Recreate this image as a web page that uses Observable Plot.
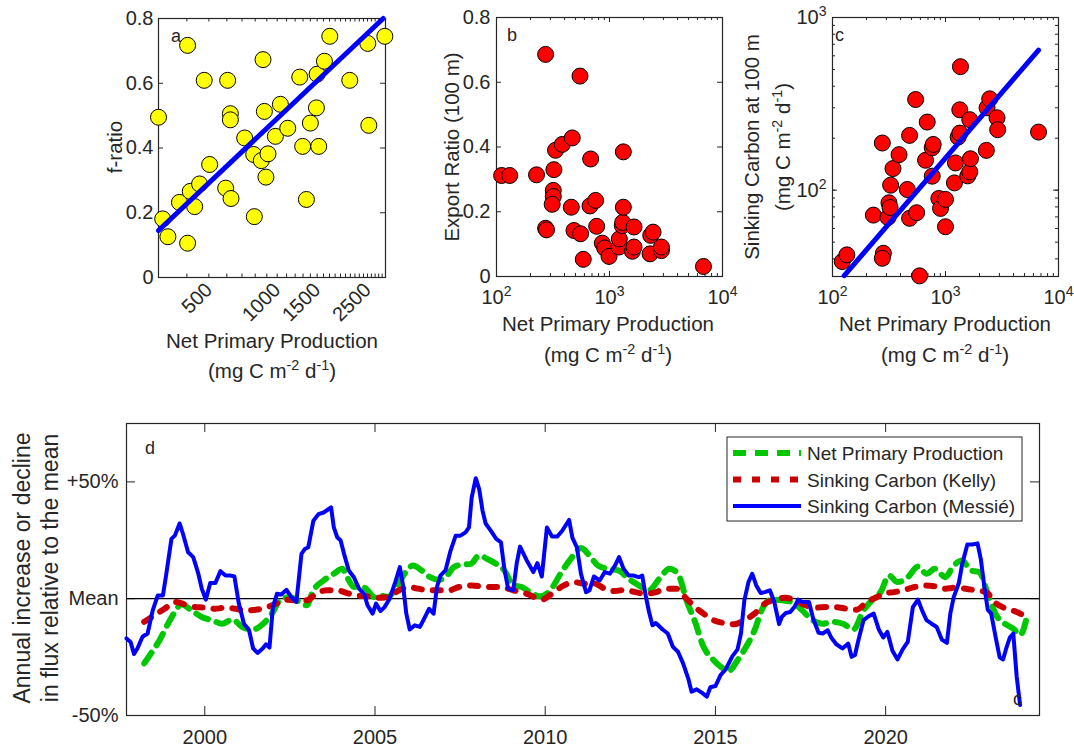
<!DOCTYPE html>
<html><head><meta charset="utf-8">
<script src="https://cdn.jsdelivr.net/npm/d3@7"></script>
<script src="https://cdn.jsdelivr.net/npm/@observablehq/plot@0.6"></script>
<style>
body{margin:0;background:#fff;}
#fig{position:relative;width:1074px;height:748px;overflow:hidden;background:#fff;}
#fig svg{position:absolute;left:0;top:0;overflow:visible;}
</style></head><body><div id="fig"></div>
<script>
// ---------------- DATA ----------------
// Panel a: NPP (mg C m-2 d-1) vs f-ratio
const aNpp = [300,313,330,371,403,403,414,433,455,477,504,593,605,622,622,626,719,788,793,851,866,878,911,892,982,1033,1113,1257,1295,1345,1400,1489,1499,1524,1615,1705,2088,2507,2533,2980];
const aF   = [0.495,0.181,0.126,0.232,0.717,0.106,0.266,0.219,0.289,0.609,0.349,0.276,0.609,0.506,0.487,0.244,0.431,0.380,0.188,0.361,0.673,0.513,0.382,0.310,0.436,0.535,0.461,0.619,0.405,0.241,0.477,0.524,0.628,0.405,0.668,0.745,0.609,0.723,0.470,0.745];
const aFitNpp = [300, 2930];
const aFitF = [0.145, 0.80];
const aTickLabels = [500, 1000, 1500, 2500];

// Panel b: NPP vs export ratio (100 m)
const bNpp = [111,131,226,272,272,277,318,318,311,322,333,382,468,459,485,555,548,586,681,672,754,770,864,906,990,1214,1222,1299,1308,1326,1326,1649,1594,1649,2317,2430,2285,2880,2880,6787];
const bRatio = [0.312,0.312,0.314,0.686,0.149,0.144,0.266,0.247,0.223,0.330,0.390,0.408,0.428,0.214,0.142,0.132,0.619,0.053,0.363,0.218,0.235,0.155,0.103,0.088,0.062,0.091,0.116,0.157,0.167,0.214,0.385,0.153,0.078,0.091,0.127,0.137,0.070,0.080,0.091,0.031];

// Panel c: NPP vs sinking carbon at 100 m
const cNpp = [122,134,230,276,282,276,310,316,323,327,343,388,459,481,481,544,555,590,666,689,763,763,778,873,904,1000,1000,1200,1225,1294,1338,1338,1356,1574,1640,1662,1640,2300,2331,2461,2857,2896,6660];
const cSink = [38.6,42.2,71.7,187.5,43.1,40.3,69.5,84.5,79.4,106.9,133.4,160.6,100.9,68.7,207.6,335,74.0,31.9,149,248,120.5,176,184,89.5,78.4,88.4,61.4,110.2,143.8,203,214,292,519,121,127.6,152,256,170,300,338,262.6,224,217];
const cFitNpp = [127, 6660];
const cFitSink = [32, 648];

// Panel d: annual anomaly (%) relative to the mean
const nppYears = [1998.22,1998.42,1998.67,1998.92,1999.12,1999.31,1999.61,1999.91,2000.21,2000.51,2000.81,2001.10,2001.40,2001.70,2002.00,2002.20,2002.49,2002.79,2002.99,2003.19,2003.49,2003.79,2004.04,2004.18,2004.38,2004.58,2004.78,2004.98,2005.13,2005.38,2005.63,2005.87,2006.12,2006.37,2006.62,2006.87,2007.07,2007.32,2007.56,2007.81,2008.06,2008.30,2008.56,2008.80,2009.06,2009.31,2009.55,2009.85,2010.15,2010.45,2010.75,2011.05,2011.30,2011.55,2011.85,2012.15,2012.45,2012.75,2013.05,2013.35,2013.65,2013.90,2014.15,2014.40,2014.65,2014.90,2015.15,2015.40,2015.65,2015.90,2016.15,2016.40,2016.65,2016.95,2017.25,2017.55,2017.85,2018.15,2018.45,2018.75,2019.05,2019.35,2019.65,2019.85,2020.10,2020.35,2020.65,2020.95,2021.20,2021.45,2021.75,2022.00,2022.25,2022.50,2022.75,2023.00,2023.25,2023.50,2023.75,2023.95,2024.15];
const nppValues = [-27.7,-23.4,-17.8,-10.7,-5.7,-2.4,-5.0,-7.8,-9.2,-10.7,-8.9,-12.1,-13.2,-10.9,-5.7,-0.7,0.7,-1.4,-2.8,3.6,7.8,10.7,12.8,9.2,5.0,5.7,3.6,0.7,1.4,0.7,5.0,10.7,14.2,12.1,9.2,8.1,9.2,13.5,14.6,14.9,18.5,17.0,14.9,12.1,5.7,5.0,2.8,1.0,3.6,10.7,17.0,21.7,18.5,14.2,12.8,12.1,8.5,5.7,3.6,8.5,12.8,10.7,-0.7,-9.9,-20.6,-25.6,-29.1,-30.8,-26.3,-20.6,-13.5,-3.6,-0.4,-0.7,-1.4,-5.0,-9.2,-10.7,-9.9,-10.7,-13.2,-5.0,0,2.8,9.9,7.1,9.2,13.8,10.7,12.8,9.2,14.2,16.3,12.1,11.4,2.1,-7.1,-10.7,-12.8,-15.6,-7.8];

const kellyYears = [1998.22,1998.52,1998.82,1999.12,1999.41,1999.71,2000.01,2000.31,2000.61,2000.90,2001.20,2001.50,2001.80,2002.10,2002.40,2002.69,2002.99,2003.29,2003.59,2003.89,2004.18,2004.48,2004.78,2005.08,2005.38,2005.67,2005.97,2006.27,2006.57,2006.87,2007.17,2007.47,2007.86,2008.26,2008.66,2009.06,2009.46,2009.90,2010.25,2010.55,2010.85,2011.15,2011.45,2011.75,2012.05,2012.35,2012.65,2012.95,2013.25,2013.55,2013.85,2014.15,2014.40,2014.65,2014.95,2015.25,2015.55,2015.85,2016.15,2016.45,2016.75,2017.05,2017.35,2017.65,2017.95,2018.25,2018.55,2018.85,2019.15,2019.45,2019.75,2020.00,2020.25,2020.55,2020.85,2021.15,2021.45,2021.75,2022.05,2022.35,2022.65,2022.95,2023.25,2023.55,2023.85,2024.05];
const kellyValues = [-9.9,-7.1,-4.3,-1.4,-2.4,-3.6,-3.8,-4.3,-3.8,-4.3,-5.0,-4.7,-3.8,-2.1,-0.4,-0.7,-0.7,2.4,3.6,3.6,2.4,1.4,1.0,0.4,0.7,3.3,5.0,4.3,3.6,3.6,3.6,5.0,5.7,5.0,5.0,3.6,2.1,-0.4,2.8,5.7,7.1,6.4,6.4,4.3,3.3,3.8,2.8,2.1,2.8,4.3,4.3,0,-3.6,-6.4,-9.2,-10.4,-10.9,-9.2,-6.4,-2.1,-0.4,0.4,-0.7,-2.8,-3.8,-3.6,-3.6,-4.3,-4.7,-1.4,0.7,2.4,2.8,3.8,5.0,5.7,5.3,4.3,4.7,4.3,3.6,2.8,-2.1,-4.3,-5.7,-7.1];

const messieYears = [1997.70,1997.82,1997.92,1998.02,1998.17,1998.32,1998.47,1998.62,1998.77,1998.87,1999.02,1999.12,1999.26,1999.36,1999.51,1999.66,1999.81,1999.91,2000.03,2000.16,2000.31,2000.46,2000.61,2000.76,2000.87,2001.00,2001.15,2001.30,2001.42,2001.55,2001.70,2001.80,2001.90,2002.00,2002.12,2002.25,2002.40,2002.54,2002.69,2002.84,2002.94,2003.04,2003.19,2003.34,2003.49,2003.64,2003.71,2003.79,2003.89,2003.99,2004.09,2004.23,2004.38,2004.53,2004.68,2004.78,2004.93,2005.03,2005.16,2005.28,2005.43,2005.58,2005.73,2005.83,2005.92,2006.02,2006.17,2006.32,2006.47,2006.59,2006.72,2006.82,2006.92,2007.07,2007.22,2007.37,2007.51,2007.66,2007.76,2007.84,2007.96,2008.06,2008.16,2008.25,2008.40,2008.56,2008.70,2008.80,2008.91,2009.06,2009.16,2009.26,2009.45,2009.65,2009.77,2009.90,2010.05,2010.20,2010.35,2010.50,2010.70,2010.80,2010.93,2011.05,2011.20,2011.30,2011.43,2011.60,2011.75,2011.90,2012.05,2012.17,2012.30,2012.45,2012.60,2012.75,2012.85,2012.95,2013.05,2013.15,2013.25,2013.45,2013.60,2013.75,2013.90,2014.05,2014.20,2014.30,2014.45,2014.60,2014.75,2014.85,2015.00,2015.15,2015.30,2015.50,2015.65,2015.75,2015.85,2015.97,2016.08,2016.20,2016.33,2016.45,2016.60,2016.73,2016.87,2016.95,2017.07,2017.20,2017.33,2017.43,2017.55,2017.75,2017.87,2018.03,2018.15,2018.30,2018.40,2018.55,2018.73,2018.90,2019.00,2019.10,2019.20,2019.35,2019.50,2019.65,2019.80,2019.93,2020.05,2020.20,2020.35,2020.50,2020.65,2020.80,2020.95,2021.07,2021.20,2021.35,2021.50,2021.65,2021.80,2021.90,2022.00,2022.15,2022.25,2022.40,2022.55,2022.70,2022.80,2022.90,2023.00,2023.10,2023.25,2023.35,2023.45,2023.55,2023.65,2023.75,2023.85,2023.95];
const messieValues = [-17.0,-18.5,-23.7,-21.3,-16.3,-14.9,-5.0,1.4,1.4,10.7,25.6,27.0,32.2,27.7,19.9,17.8,10.7,4.3,-0.4,6.7,6.7,11.8,9.9,9.9,9.5,-2.1,-10.7,-13.5,-21.3,-23.2,-21.3,-19.5,-20.9,-3.6,2.1,1.8,3.8,0.7,-1.4,19.2,21.3,22.0,33.4,36.2,36.9,38.4,39.1,30.5,26.3,24.9,19.2,12.1,9.2,4.3,2.1,-2.8,-6.4,-2.1,-5.3,-3.6,0,6.4,13.5,5.0,-6.4,-13.2,-11.4,-12.1,-7.8,-4.3,-6.4,5.0,9.9,12.1,20.6,27.0,27.0,28.4,30.5,43.3,51.6,46.9,37.6,32.2,29.1,25.6,24.1,12.8,4.3,3.6,14.9,22.3,16.6,11.4,15.2,9.5,30.5,26.6,26.6,29.1,33.7,26.0,22.0,10.7,2.8,3.6,9.5,7.8,11.4,10.7,14.2,17.8,12.8,9.9,9.9,9.2,9.9,1.4,-5.7,-11.4,-10.4,-13.2,-14.9,-20.6,-22.7,-27.7,-34.1,-39.8,-38.8,-40.2,-41.9,-37.9,-37.4,-32.7,-30.3,-24.6,-21.7,-14.9,-0.7,7.1,10.7,5.7,2.4,2.8,3.6,-1.4,-10.9,-7.8,-6.1,-5.7,-3.3,-0.4,-1.4,-1.4,-8.5,-14.6,-14.9,-13.5,-16.6,-19.5,-21.3,-19.2,-24.9,-24.1,-17.8,-9.2,-7.5,-6.4,-13.2,-16.6,-14.2,-22.3,-26.0,-21.7,-18.5,-3.6,-0.4,-5.0,-9.2,-10.7,-12.1,-17.5,-18.9,-6.4,0.7,6.7,14.9,23.2,23.2,23.7,16.6,5.0,-4.7,-6.4,-17.8,-25.1,-26.0,-20.9,-16.6,-14.9,-33.4,-45.5];

const dYearTicks = [2000, 2005, 2010, 2015, 2020];
const dPctTicks = [-50, 0, 50];
const dPctLabels = ["-50%", "Mean", "+50%"];
const legendLabels = ["Net Primary Production", "Sinking Carbon (Kelly)", "Sinking Carbon (Messié)"];

// ---------------- HELPERS ----------------
const FONT = '"Liberation Sans", Arial, Helvetica, sans-serif';
const INK = "#262626";
const zip2 = (xs, ys, kx, ky) => xs.map((v, i) => ({[kx]: v, [ky]: ys[i]}));
const style = () => ({fontFamily: FONT, fontSize: "20px", color: INK, background: "transparent", overflow: "visible"});

function xInTicks(values, len, span) {
  return [
    Plot.tickX(values, {x: d => d, insetTop: span - len, stroke: INK, strokeWidth: 1}),
    Plot.tickX(values, {x: d => d, insetBottom: span - len, stroke: INK, strokeWidth: 1})
  ];
}
function yInTicks(values, len, span) {
  return [
    Plot.tickY(values, {y: d => d, insetRight: span - len, stroke: INK, strokeWidth: 1}),
    Plot.tickY(values, {y: d => d, insetLeft: span - len, stroke: INK, strokeWidth: 1})
  ];
}
function logMinor(lo, hi) {
  const out = [];
  for (let dec = 1; dec <= 1e5; dec *= 10)
    for (let k = 1; k < 10; k++) { const v = k * dec; if (v >= lo - 1e-9 && v <= hi + 1e-9) out.push(v); }
  return out;
}
function supLabels(svg) {
  d3.select(svg).selectAll('g[aria-label$="tick label"] text').each(function () {
    const m = /^10\^(\d+)$/.exec(this.textContent);
    if (!m) return;
    const s = d3.select(this);
    s.text(null);
    s.append("tspan").text("10");
    s.append("tspan").attr("dy", "-8").attr("font-size", "14px").text(m[1]);
  });
}
const powFmt = d => "10^" + Math.round(Math.log10(d));
const fig = document.getElementById("fig");

// ---------------- PANEL A ----------------
{
  const W = 385 - 158, H = 277 - 18;
  const p = Plot.plot({
    width: 1074, height: 300, marginLeft: 158, marginRight: 1074 - 385, marginTop: 18, marginBottom: 23,
    style: style(),
    x: {type: "log", domain: [300, 3000], label: null},
    y: {domain: [0, 0.8], label: null},
    marks: [
      Plot.frame({stroke: INK, strokeWidth: 1.2}),
      ...xInTicks(d3.range(300, 1000, 100).concat(d3.range(1000, 3001, 100)), 3.5, H),
      ...yInTicks([0, 0.2, 0.4, 0.6, 0.8], 5, W),
      Plot.axisX({ticks: aTickLabels, tickSize: 0, tickRotate: -45, tickPadding: 9, tickFormat: d => String(d), label: null}),
      Plot.axisY({ticks: [0, 0.2, 0.4, 0.6, 0.8], tickSize: 0, tickPadding: 5, tickFormat: d => String(d), label: null}),
      Plot.dot(zip2(aNpp, aF, "npp", "f"), {x: "npp", y: "f", r: 8, fill: "#ffff00", stroke: "#000", strokeWidth: 1}),
      Plot.line(zip2(aFitNpp, aFitF, "npp", "f"), {x: "npp", y: "f", stroke: "#0000ff", strokeWidth: 5})
    ]
  });
  fig.appendChild(p);
}

// ---------------- PANEL B ----------------
{
  const W = 722 - 496, H = 276 - 17;
  const p = Plot.plot({
    width: 1074, height: 300, marginLeft: 496, marginRight: 1074 - 722, marginTop: 17, marginBottom: 24,
    style: style(),
    x: {type: "log", domain: [100, 10000], label: null},
    y: {domain: [0, 0.8], label: null},
    marks: [
      Plot.frame({stroke: INK, strokeWidth: 1.2}),
      ...xInTicks(logMinor(100, 10000), 3, H),
      ...xInTicks([100, 1000, 10000], 5, H),
      ...yInTicks([0, 0.2, 0.4, 0.6, 0.8], 5, W),
      Plot.axisX({ticks: [100, 1000, 10000], tickSize: 0, tickPadding: 13, tickFormat: powFmt, label: null}),
      Plot.axisY({ticks: [0, 0.2, 0.4, 0.6, 0.8], tickSize: 0, tickPadding: 6, tickFormat: d => String(d), label: null}),
      Plot.dot(zip2(bNpp, bRatio, "npp", "ratio"), {x: "npp", y: "ratio", r: 8, fill: "#ff0000", stroke: "#000", strokeWidth: 1})
    ]
  });
  supLabels(p);
  fig.appendChild(p);
}

// ---------------- PANEL C ----------------
{
  const W = 1058 - 832, H = 276 - 17;
  const p = Plot.plot({
    width: 1074, height: 300, marginLeft: 832, marginRight: 1074 - 1058, marginTop: 17, marginBottom: 24,
    style: style(),
    x: {type: "log", domain: [100, 10000], label: null},
    y: {type: "log", domain: [Math.pow(10, 1.5), 1000], label: null},
    marks: [
      Plot.frame({stroke: INK, strokeWidth: 1.2}),
      ...xInTicks(logMinor(100, 10000), 3, H),
      ...xInTicks([100, 1000, 10000], 5, H),
      ...yInTicks(logMinor(40, 1000), 3, W),
      ...yInTicks([100, 1000], 5, W),
      Plot.axisX({ticks: [100, 1000, 10000], tickSize: 0, tickPadding: 13, tickFormat: powFmt, label: null}),
      Plot.axisY({ticks: [100, 1000], tickSize: 0, tickPadding: 6, tickFormat: powFmt, label: null}),
      Plot.dot(zip2(cNpp, cSink, "npp", "sink"), {x: "npp", y: "sink", r: 8, fill: "#ff0000", stroke: "#000", strokeWidth: 1}),
      Plot.line(zip2(cFitNpp, cFitSink, "npp", "sink"), {x: "npp", y: "sink", stroke: "#0000ff", strokeWidth: 5})
    ]
  });
  supLabels(p);
  fig.appendChild(p);
}

// ---------------- PANEL D ----------------
const GREEN = "#00c800", DRED = "#cc0000", BLUE = "#0000ff";
{
  const W = 1039 - 126, H = 715 - 423;
  const p = Plot.plot({
    width: 1074, height: 748, marginLeft: 126, marginRight: 1074 - 1039, marginTop: 423, marginBottom: 748 - 715,
    style: style(),
    x: {domain: [1997.7, 2024.52], label: null},
    y: {domain: [-50, 75], label: null},
    marks: [
      Plot.frame({stroke: INK, strokeWidth: 1.2}),
      ...xInTicks(dYearTicks, 9, H),
      ...yInTicks(dPctTicks, 9, W),
      Plot.ruleY([0], {stroke: "#000", strokeWidth: 1.2}),
      Plot.axisX({ticks: dYearTicks, tickSize: 0, tickPadding: 14, tickFormat: d => String(d), label: null}),
      Plot.axisY({ticks: dPctTicks, tickSize: 0, tickPadding: 8, tickFormat: d => dPctLabels[dPctTicks.indexOf(d)], label: null}),
      Plot.line(zip2(nppYears, nppValues, "year", "v"), {x: "year", y: "v", stroke: GREEN, strokeWidth: 6, strokeDasharray: "13,9", curve: "monotone-x"}),
      Plot.line(zip2(kellyYears, kellyValues, "year", "v"), {x: "year", y: "v", stroke: DRED, strokeWidth: 6, strokeDasharray: "8,11", curve: "monotone-x"}),
      Plot.line(zip2(messieYears, messieValues, "year", "v"), {x: "year", y: "v", stroke: BLUE, strokeWidth: 4, strokeLinejoin: "round"})
    ]
  });
  fig.appendChild(p);
}

// ---------------- TEXT OVERLAY (titles, legend, panel letters) ----------------
const ov = d3.select(fig).append("svg").attr("width", 1074).attr("height", 748)
  .style("font-family", FONT).style("fill", INK).style("pointer-events", "none");

function label(parts, x, y, {rotate = false, size = 20.5, anchor = "middle"} = {}) {
  const t = ov.append("text").attr("text-anchor", anchor).attr("font-size", size).attr("fill", INK)
    .attr("transform", `translate(${x},${y})` + (rotate ? " rotate(-90)" : ""));
  let raised = false;
  parts.forEach(pt => {
    const sup = Array.isArray(pt);
    const txt = sup ? pt[0] : pt;
    const ts = t.append("tspan").text(txt);
    if (sup && !raised) { ts.attr("dy", -8).attr("font-size", size * 0.7); raised = true; }
    else if (sup) { ts.attr("font-size", size * 0.7); }
    else if (!sup && raised) { ts.attr("dy", 8); raised = false; }
  });
  return t;
}
const units = ["(mg C m", ["-2"], " d", ["-1"], ")"];

// panel a
label(["f-ratio"], 122, 147, {rotate: true});
label(["Net Primary Production"], 272, 348);
label(units, 272, 378);
// panel b
label(["Export Ratio (100 m)"], 459, 147, {rotate: true});
label(["Net Primary Production"], 608, 331);
label(units, 608, 362);
// panel c
label(["Sinking Carbon at 100 m"], 759, 147, {rotate: true});
label(units, 790, 147, {rotate: true});
label(["Net Primary Production"], 945, 331);
label(units, 945, 362);
// panel d
label(["Annual increase or decline"], 30, 568, {rotate: true, size: 23});
label(["in flux relative to the mean"], 58, 568, {rotate: true, size: 23});

// panel letters
label(["a"], 171, 42, {size: 18, anchor: "start"});
label(["b"], 507, 41, {size: 18, anchor: "start"});
label(["c"], 835, 41, {size: 18, anchor: "start"});
label(["d"], 145, 454, {size: 18, anchor: "start"});
label(["c"], 1013, 705, {size: 18, anchor: "start"});

// legend
{
  const lx = 727, ly = 437, lw = 295, lh = 84;
  ov.append("rect").attr("x", lx).attr("y", ly).attr("width", lw).attr("height", lh)
    .attr("fill", "#fff").attr("stroke", INK).attr("stroke-width", 1);
  const rows = [
    {c: GREEN, w: 6, dash: "13,9"},
    {c: DRED, w: 6, dash: "8,11"},
    {c: BLUE, w: 4, dash: null}
  ];
  rows.forEach((r, i) => {
    const y = 453 + i * 26.5;
    const l = ov.append("line").attr("x1", 733).attr("x2", 801).attr("y1", y).attr("y2", y)
      .attr("stroke", r.c).attr("stroke-width", r.w);
    if (r.dash) l.attr("stroke-dasharray", r.dash);
    ov.append("text").attr("x", 807).attr("y", y + 7).attr("font-size", 19).attr("fill", INK).text(legendLabels[i]);
  });
}
</script></body></html>
